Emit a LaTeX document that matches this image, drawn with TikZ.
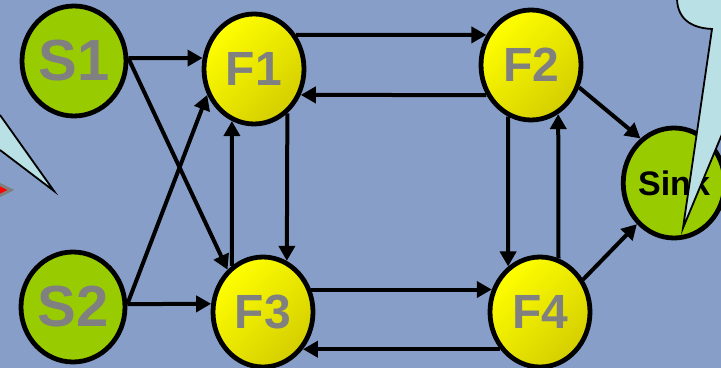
\documentclass[tikz,border=0pt]{standalone}
\usepackage{fontspec}
\setmainfont{Liberation Sans}
\usetikzlibrary{shapes.geometric,arrows.meta}
\definecolor{slide}{RGB}{135,159,200}
\definecolor{srcgreen}{RGB}{153,204,0}
\definecolor{labelgray}{RGB}{128,128,128}
\definecolor{fwdlight}{RGB}{255,255,0}
\definecolor{fwddark}{RGB}{212,206,0}
\definecolor{callout}{RGB}{185,224,228}
\tikzset{
  srcnode/.style={ellipse,draw=black,line width=2.4pt,fill=srcgreen,minimum width=52pt,minimum height=55pt,inner sep=0pt,text=labelgray,font=\fontsize{29}{29}\selectfont\bfseries},
  fwdnode/.style={ellipse,draw=black,line width=2.4pt,top color=fwdlight,bottom color=fwddark,shading angle=45,minimum width=50pt,minimum height=55pt,inner sep=0pt,text=labelgray,font=\fontsize{24}{24}\selectfont\bfseries},
  sinknode/.style={ellipse,draw=black,line width=2.4pt,fill=srcgreen,minimum width=49pt,minimum height=55pt,inner sep=0pt,font=\fontsize{17}{17}\selectfont\bfseries},
  flow/.style={line width=2pt,-{Triangle[length=7.5pt,width=8pt]}},
  bubble/.style={fill=callout,draw=black,line width=0.9pt,line join=miter}
}
\begin{document}
\begin{tikzpicture}[x=0.5pt,y=-0.5pt]
        \useasboundingbox (0,0) rectangle (721,368);
        \clip (0,0) rectangle (721,368);
        \fill[slide] (0,0) rectangle (721,368);
        \filldraw[bubble] (0,115) -- (54,191) -- (0,150);
        \filldraw[fill=red,draw=gray,line width=1.5pt] (-3,183) -- (11,190) -- (-3,197) -- cycle;
        \node[srcnode]  (S1)   at (74,61)   {S1};
        \node[srcnode]  (S2)   at (73,307)  {S2};
        \node[fwdnode]  (F1)   at (254,69)  {F1};
        \node[fwdnode]  (F2)   at (531,65)  {F2};
        \node[fwdnode]  (F3)   at (263,312) {F3};
        \node[fwdnode]  (F4)   at (540,312) {F4};
        \node[sinknode] (Sink) at (674,183) {\raisebox{-2.5pt}{Sink}};
        \draw[flow] (S1.3) -- (F1.168);
        \draw[flow] (S1.3) -- (F3.130);
        \draw[flow] (S2.3) -- (F1.209);
        \draw[flow] (S2.3) -- (F3.171);
        \draw[flow] (F1.307) -- (F3.65);
        \draw[flow] (F3.124) -- (F1.247);
        \draw[flow] (F1.39) -- (F2.146);
        \draw[flow] (F2.214) -- (F1.331);
        \draw[flow] (F2.246) -- (F4.125);
        \draw[flow] (F4.71) -- (F2.299);
        \draw[flow] (F3.25) -- (F4.155);
        \draw[flow] (F4.223) -- (F3.317);
        \draw[flow] (F2.335) -- (Sink.127);
        \draw[flow] (F4.37) -- (Sink.228);
        \filldraw[bubble] (677,-5) .. controls (676,18) and (690,28) .. (712,29) -- (683,228) -- (730,115) -- (730,-5) -- cycle;
\end{tikzpicture}
\end{document}
